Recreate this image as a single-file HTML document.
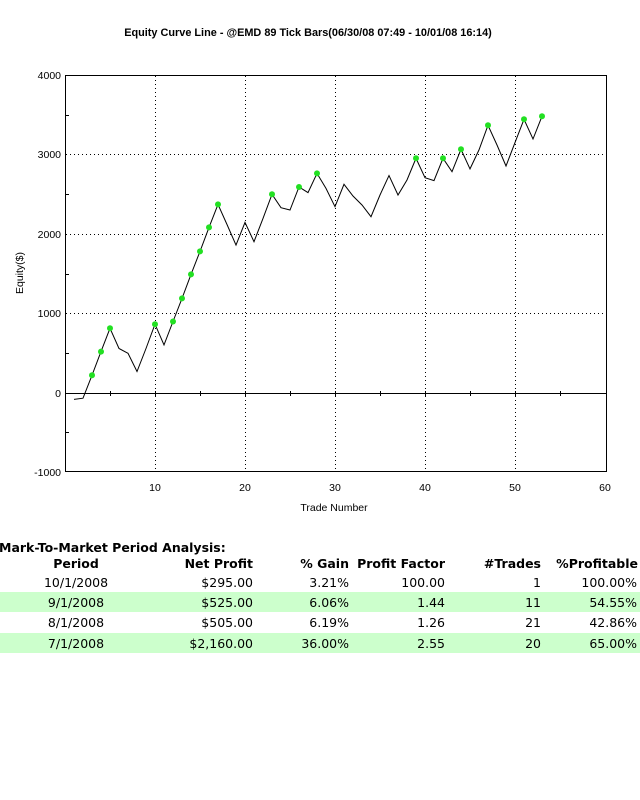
<!DOCTYPE html>
<html><head><meta charset="utf-8"><style>
html,body{margin:0;padding:0;background:#fff;}
svg{display:block}
</style></head><body>
<svg width="640" height="800" xmlns="http://www.w3.org/2000/svg">
<text x="308" y="36" text-anchor="middle" font-family="Liberation Sans, sans-serif" font-size="10.9" font-weight="bold">Equity Curve Line - @EMD 89 Tick Bars(06/30/08 07:49 - 10/01/08 16:14)</text>
<g stroke="#000" stroke-width="1" stroke-dasharray="1,3">
<line x1="155.5" y1="76" x2="155.5" y2="472"/>
<line x1="245.5" y1="76" x2="245.5" y2="472"/>
<line x1="335.5" y1="76" x2="335.5" y2="472"/>
<line x1="425.5" y1="76" x2="425.5" y2="472"/>
<line x1="515.5" y1="76" x2="515.5" y2="472"/>
<line x1="66" y1="154.5" x2="607" y2="154.5"/>
<line x1="66" y1="234.5" x2="607" y2="234.5"/>
<line x1="66" y1="313.5" x2="607" y2="313.5"/>
</g>
<rect x="65.5" y="75.5" width="541" height="396" fill="none" stroke="#000"/>
<line x1="65" y1="393.5" x2="607" y2="393.5" stroke="#000"/>
<g stroke="#000">
<line x1="110.5" y1="391" x2="110.5" y2="396"/><line x1="155.5" y1="391" x2="155.5" y2="396"/>
<line x1="200.5" y1="391" x2="200.5" y2="396"/><line x1="245.5" y1="391" x2="245.5" y2="396"/>
<line x1="290.5" y1="391" x2="290.5" y2="396"/><line x1="335.5" y1="391" x2="335.5" y2="396"/>
<line x1="380.5" y1="391" x2="380.5" y2="396"/><line x1="425.5" y1="391" x2="425.5" y2="396"/>
<line x1="470.5" y1="391" x2="470.5" y2="396"/><line x1="515.5" y1="391" x2="515.5" y2="396"/>
<line x1="560.5" y1="391" x2="560.5" y2="396"/>
<line x1="66" y1="115.5" x2="69" y2="115.5"/><line x1="66" y1="194.5" x2="69" y2="194.5"/>
<line x1="66" y1="274.5" x2="69" y2="274.5"/><line x1="66" y1="353.5" x2="69" y2="353.5"/>
<line x1="66" y1="432.5" x2="69" y2="432.5"/>
</g>
<g font-family="Liberation Sans, sans-serif" font-size="10.5" text-anchor="end">
<text x="61" y="79">4000</text><text x="61" y="158">3000</text><text x="61" y="238">2000</text>
<text x="61" y="317">1000</text><text x="61" y="397">0</text><text x="61" y="476">-1000</text>
</g>
<g font-family="Liberation Sans, sans-serif" font-size="10.5" text-anchor="middle">
<text x="155" y="491">10</text><text x="245" y="491">20</text><text x="335" y="491">30</text>
<text x="425" y="491">40</text><text x="515" y="491">50</text><text x="605" y="491">60</text>
<text x="334" y="511">Trade Number</text>
<text transform="translate(23,273) rotate(-90)">Equity($)</text>
</g>
<polyline fill="none" stroke="#000" stroke-width="1" points="74,399.4 83,398.2 92,375.3 101,351.6 110,328.3 119,348.5 128,353.3 137,371.5 146,348.5 155,324.2 164,344.9 173,321.5 182,298.4 191,274.4 200,251.4 209,227.4 218,204.4 227,224.5 236,245.1 245,222.4 254,241.7 263,218.4 272,194.3 281,207.7 290,210.0 299,187.0 308,192.6 317,173.4 326,188.4 335,206.7 344,184.3 353,196.0 362,205.0 371,216.7 380,195.0 389,175.6 398,195.0 407,180.0 416,158.3 425,177.7 434,180.6 443,158.3 452,171.7 461,149.3 470,168.9 479,149.9 488,125.3 497,145.0 506,166.0 515,142.6 524,119.3 533,139.0 542,116.3"/>
<g fill="#22e022">
<circle cx="92" cy="375.3" r="3"/><circle cx="101" cy="351.6" r="3"/><circle cx="110" cy="328.3" r="3"/>
<circle cx="155" cy="324.2" r="3"/><circle cx="173" cy="321.5" r="3"/><circle cx="182" cy="298.4" r="3"/>
<circle cx="191" cy="274.4" r="3"/><circle cx="200" cy="251.4" r="3"/><circle cx="209" cy="227.4" r="3"/>
<circle cx="218" cy="204.4" r="3"/><circle cx="272" cy="194.3" r="3"/><circle cx="299" cy="187.0" r="3"/>
<circle cx="317" cy="173.4" r="3"/><circle cx="416" cy="158.3" r="3"/><circle cx="443" cy="158.3" r="3"/>
<circle cx="461" cy="149.3" r="3"/><circle cx="488" cy="125.3" r="3"/><circle cx="524" cy="119.3" r="3"/>
<circle cx="542" cy="116.3" r="3"/>
</g>
<rect x="0" y="592" width="640" height="20" fill="#ccffcc"/>
<rect x="0" y="633" width="640" height="20" fill="#ccffcc"/>
<g font-family="DejaVu Sans, sans-serif" font-size="12.5">
<text x="-1" y="552" font-weight="bold">Mark-To-Market Period Analysis:</text>
<g font-weight="bold" text-anchor="end">
<text x="76" y="568" text-anchor="middle">Period</text>
<text x="253" y="568">Net Profit</text><text x="349" y="568">% Gain</text>
<text x="445" y="568">Profit Factor</text><text x="541" y="568">#Trades</text><text x="638" y="568">%Profitable</text>
</g>
<g text-anchor="end">
<text x="76" y="587" text-anchor="middle">10/1/2008</text><text x="253" y="587">$295.00</text><text x="349" y="587">3.21%</text><text x="445" y="587">100.00</text><text x="541" y="587">1</text><text x="637" y="587">100.00%</text>
<text x="76" y="607" text-anchor="middle">9/1/2008</text><text x="253" y="607">$525.00</text><text x="349" y="607">6.06%</text><text x="445" y="607">1.44</text><text x="541" y="607">11</text><text x="637" y="607">54.55%</text>
<text x="76" y="627" text-anchor="middle">8/1/2008</text><text x="253" y="627">$505.00</text><text x="349" y="627">6.19%</text><text x="445" y="627">1.26</text><text x="541" y="627">21</text><text x="637" y="627">42.86%</text>
<text x="76" y="648" text-anchor="middle">7/1/2008</text><text x="253" y="648">$2,160.00</text><text x="349" y="648">36.00%</text><text x="445" y="648">2.55</text><text x="541" y="648">20</text><text x="637" y="648">65.00%</text>
</g>
</g>
</svg>
</body></html>
